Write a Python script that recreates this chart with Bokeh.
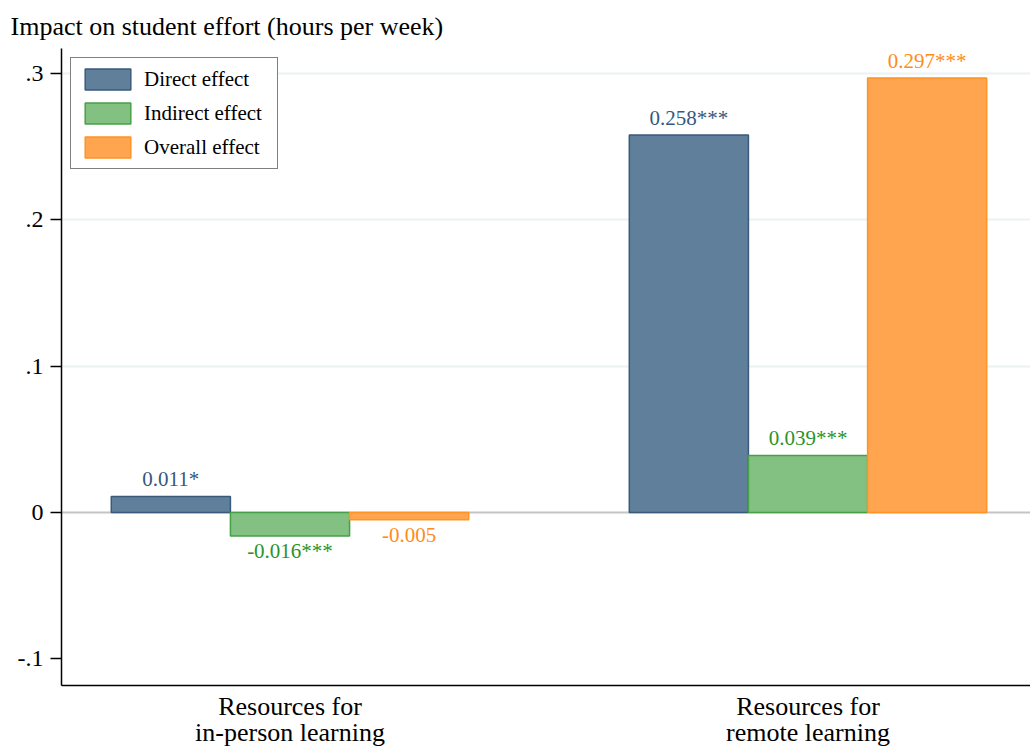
from bokeh.plotting import figure
from bokeh.models import ColumnDataSource, LabelSet, Span, FixedTicker
from bokeh.core.properties import value
from bokeh.embed import file_html
from bokeh.resources import INLINE

# ---- data ----
group_labels = ["Resources for\nin-person learning", "Resources for\nremote learning"]
series_names = ["Direct effect", "Indirect effect", "Overall effect"]
direct = [0.011, 0.258]
indirect = [-0.016, 0.039]
overall = [-0.005, 0.297]
direct_stars = ["*", "***"]
indirect_stars = ["***", "***"]
overall_stars = ["", "***"]
y_ticks = [-0.1, 0, 0.1, 0.2, 0.3]
y_tick_labels = ["-.1", "0", ".1", ".2", ".3"]

# ---- styling ----
FONT = "Liberation Serif"
fills = ["#5f7f9a", "#82c182", "#ffa54f"]
lines = ["#3a5a7c", "#47a047", "#ff9326"]
text_colors = ["#35587e", "#2a942a", "#ff8c1a"]
offsets = [-0.23, 0.0, 0.23]
BAR_W = 0.23
group_pos = [1, 2]
Y_MIN, Y_MAX = -0.1182, 0.3171
X_MIN, X_MAX = 0.5589, 2.4295

p = figure(width=1030, height=749, x_range=(X_MIN, X_MAX), y_range=(Y_MIN, Y_MAX),
           output_backend="svg", toolbar_location=None,
           min_border_left=61, min_border_right=0, min_border_top=48, min_border_bottom=64)
p.outline_line_color = None
p.background_fill_color = "white"
p.border_fill_color = "white"

# title, top-left
p.title.text = "Impact on student effort (hours per week)"
p.title.align = "left"
p.title.offset = -51
p.title.standoff = 16
p.title.text_font = FONT
p.title.text_font_size = "26px"
p.title.text_font_style = "normal"
p.title.text_color = "black"

# horizontal grid
p.xgrid.visible = False
p.ygrid.ticker = FixedTicker(ticks=[t for t in y_ticks if t > 0])
p.ygrid.grid_line_color = "#eaf2f3"
p.ygrid.grid_line_width = 2

# zero reference line
p.add_layout(Span(location=0, dimension="width", line_color="#c4c4c4",
                  line_width=2, level="underlay"))

# y axis
p.yaxis.ticker = FixedTicker(ticks=y_ticks)
p.yaxis.major_label_overrides = {t: l for t, l in zip(y_ticks, y_tick_labels)}
p.yaxis.minor_tick_line_color = None
p.yaxis.major_tick_in = 0
p.yaxis.major_tick_out = 11
p.yaxis.major_tick_line_width = 1.5
p.yaxis.axis_line_width = 1.5
p.yaxis.axis_line_color = "black"
p.yaxis.major_label_standoff = 7
p.yaxis.major_label_text_font = FONT
p.yaxis.major_label_text_font_size = "24px"
p.yaxis.major_label_text_color = "black"

# x axis: category names as two-line labels
p.xaxis.ticker = FixedTicker(ticks=group_pos)
p.xaxis.major_label_overrides = {g: l for g, l in zip(group_pos, group_labels)}
p.xaxis.major_tick_line_color = None
p.xaxis.major_tick_out = 0
p.xaxis.minor_tick_line_color = None
p.xaxis.major_label_standoff = 6
p.xaxis.major_label_text_font = FONT
p.xaxis.major_label_text_font_size = "26px"
p.xaxis.major_label_text_line_height = 0.9
p.xaxis.major_label_text_color = "black"
p.xaxis.axis_line_width = 1.5
p.xaxis.axis_line_color = "black"

all_values = [direct, indirect, overall]
all_stars = [direct_stars, indirect_stars, overall_stars]
for name, vals, stars, off, fc, lc, tc in zip(series_names, all_values, all_stars,
                                              offsets, fills, lines, text_colors):
    src = ColumnDataSource(dict(
        x=[g + off for g in group_pos],
        top=vals,
        label=[f"{v:.3f}{s}" for v, s in zip(vals, stars)],
        yoff=[17 if v >= 0 else -15 for v in vals],
    ))
    p.vbar(x="x", top="top", bottom=0, width=BAR_W, source=src,
           fill_color=fc, line_color=lc, line_width=1.5, legend_label=name)
    p.add_layout(LabelSet(x="x", y="top", text="label", y_offset="yoff", source=src,
                          text_align="center", text_baseline="middle",
                          text_color=tc, text_font=value(FONT), text_font_size="21px"))

# legend
lg = p.legend[0]
lg.location = "top_left"
lg.margin = 9
lg.padding = 8
lg.spacing = 8
lg.glyph_width = 57
lg.glyph_height = 26
lg.label_height = 26
lg.label_width = 125
lg.label_standoff = 8
lg.label_text_font = FONT
lg.label_text_font_size = "21px"
lg.label_text_color = "black"
lg.border_line_color = "black"
lg.border_line_width = 1.5
lg.background_fill_color = "white"
lg.background_fill_alpha = 1.0

open("out.html", "w").write(file_html(p, INLINE))
